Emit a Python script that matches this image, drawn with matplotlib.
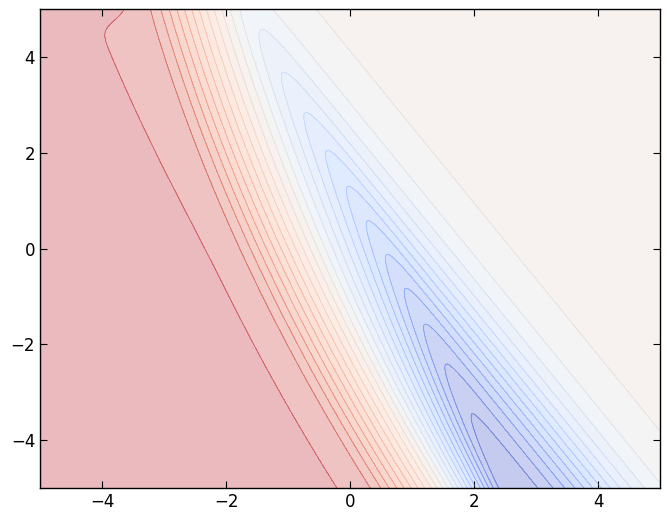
import numpy as np
import matplotlib
matplotlib.use("Agg")
import matplotlib.pyplot as plt

# grid extent
x_range = [-5, 5]
y_range = [-5, 5]
n_grid = 400

# surface parameters
white_line = [-0.53, -0.355, 0.0132]   # x of the white crossing: c0 + c1*y + c2*y^2
white_value = 0.04
upper_slope = 0.69                     # red ramp slope
lower_slope = [0.646, -0.0666, 0.00906]  # slope between white crossing and valley floor
left_plateau = 0.92
plateau_excess = [0.0035, 0.533]       # plateau excess over 0.92 and its decay with y
plateau_top = [0.012, 4.95, 0.1]       # rise of the plateau at the top edge
ramp_soft = [0.2, 0.15]                # softness at white crossing, at plateau
v_dir = 0.63                           # direction of the right-hand slope
right_plateau = 0.07
valley_depth = 1.15
right_center = 0.79
right_width = 0.5
blend = 0.09                           # softness of the valley floor
n_levels = 26
x_ticks = [-4, -2, 0, 2, 4]
y_ticks = [-4, -2, 0, 2, 4]


def sp(z):
    return np.logaddexp(0.0, z)


def sig(z):
    return 1.0 / (1.0 + np.exp(-z))


x = np.linspace(x_range[0], x_range[1], n_grid)
y = np.linspace(y_range[0], y_range[1], n_grid)
X, Y = np.meshgrid(x, y)

XW = white_line[0] + white_line[1] * Y + white_line[2] * Y ** 2
Dd = XW - X
S = lower_slope[0] + lower_slope[1] * Y + lower_slope[2] * Y ** 2
tm, tt = ramp_soft
P0 = left_plateau + plateau_excess[0]
dt = (P0 - white_value) / upper_slope
A = (white_value + S * Dd + (upper_slope - S) * tm * sp(Dd / tm)
     - upper_slope * tt * sp((Dd - dt) / tt))
Py = (left_plateau
      + plateau_excess[0] * np.exp(-plateau_excess[1] * 0.5 * sp(2 * Y))
      + plateau_top[0] * sig((Y - plateau_top[1]) / plateau_top[2]))
A = A + (Py - P0) * sig((Dd - dt) / tt)

V = X + v_dir * Y
R = right_plateau - valley_depth / (1.0 + np.exp((V - right_center) / right_width))

Z = blend * np.logaddexp(A / blend, R / blend)

levels = np.linspace(-1.0, 1.0, n_levels)
Zc = np.clip(Z, -0.999, 0.999)

fig = plt.figure(figsize=(6.7, 5.23), dpi=100)
ax = fig.add_axes([40 / 670, 1 - 488 / 523, 620 / 670, 479 / 523])
ax.contourf(X, Y, Zc, levels=levels, cmap="coolwarm", alpha=0.3)
ax.contour(X, Y, Zc, levels=levels, cmap="coolwarm", alpha=0.5, linewidths=0.6)
ax.set_xlim(x_range)
ax.set_ylim(y_range)
ax.set_xticks(x_ticks)
ax.set_yticks(y_ticks)
ax.tick_params(direction="in", top=True, right=True, length=5, labelsize=12)
for s in ax.spines.values():
    s.set_linewidth(1.0)
fig.savefig("out.png", dpi=100)
